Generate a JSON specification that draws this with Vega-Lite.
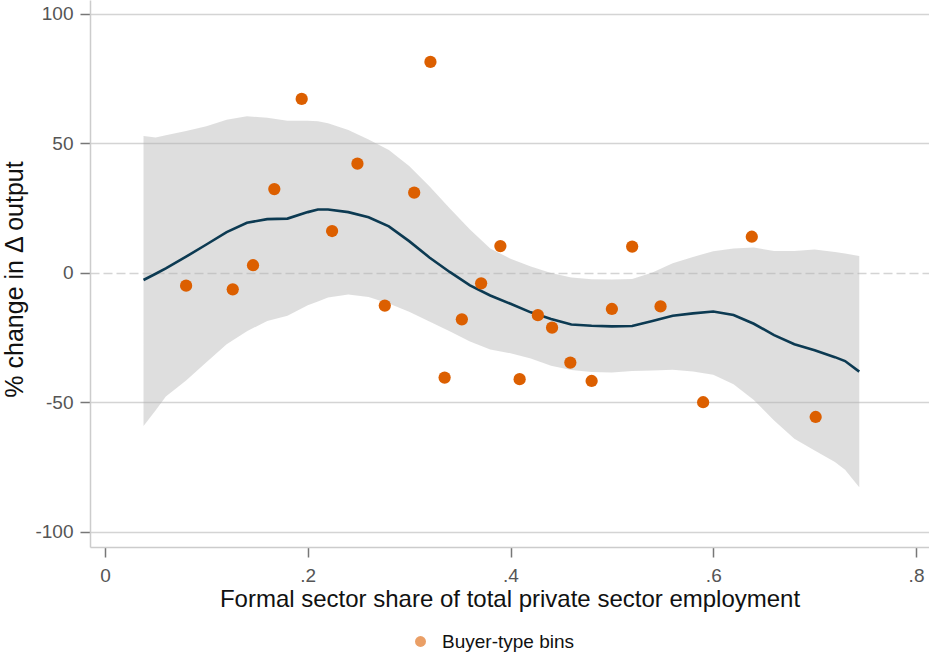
{
  "$schema": "https://vega.github.io/schema/vega-lite/v6.json",
  "width": 839,
  "height": 547,
  "autosize": {"type": "none"},
  "padding": {"left": 90, "top": 0, "right": 0, "bottom": 109},
  "background": "white",
  "config": {
    "font": "Liberation Sans",
    "view": {"stroke": null}
  },
  "datasets": {
    "band": [
      {"x": 0.038, "lo": -59.1, "hi": 52.9, "fit": -2.7},
      {"x": 0.05, "lo": -53.0, "hi": 52.3, "fit": -0.3},
      {"x": 0.06, "lo": -47.7, "hi": 53.2, "fit": 1.8},
      {"x": 0.08, "lo": -41.5, "hi": 54.8, "fit": 6.3},
      {"x": 0.10, "lo": -34.5, "hi": 56.7, "fit": 11.0},
      {"x": 0.12, "lo": -27.5, "hi": 59.2, "fit": 15.8},
      {"x": 0.14, "lo": -22.5, "hi": 60.5, "fit": 19.4},
      {"x": 0.16, "lo": -18.5, "hi": 59.9, "fit": 20.8},
      {"x": 0.18, "lo": -16.5, "hi": 58.8, "fit": 21.0},
      {"x": 0.20, "lo": -12.5, "hi": 58.8, "fit": 23.5},
      {"x": 0.21, "lo": -11.0, "hi": 58.6, "fit": 24.5},
      {"x": 0.22, "lo": -9.5, "hi": 57.8, "fit": 24.5},
      {"x": 0.24, "lo": -8.3, "hi": 55.2, "fit": 23.5},
      {"x": 0.26, "lo": -9.3, "hi": 51.5, "fit": 21.5},
      {"x": 0.28, "lo": -11.8, "hi": 47.5, "fit": 18.0},
      {"x": 0.30, "lo": -15.0, "hi": 41.3, "fit": 12.3},
      {"x": 0.32, "lo": -18.7, "hi": 33.5, "fit": 6.0},
      {"x": 0.34, "lo": -22.5, "hi": 25.0, "fit": 0.4},
      {"x": 0.36, "lo": -26.5, "hi": 16.8, "fit": -4.8},
      {"x": 0.38, "lo": -29.5, "hi": 9.5, "fit": -8.7},
      {"x": 0.40, "lo": -31.0, "hi": 5.5, "fit": -11.9},
      {"x": 0.42, "lo": -33.0, "hi": 2.5, "fit": -15.2},
      {"x": 0.44, "lo": -35.8, "hi": 0.0, "fit": -17.8},
      {"x": 0.46, "lo": -37.5, "hi": -1.7, "fit": -19.9},
      {"x": 0.48, "lo": -38.2, "hi": -2.4, "fit": -20.4},
      {"x": 0.50, "lo": -38.4, "hi": -2.5, "fit": -20.6},
      {"x": 0.52, "lo": -37.8, "hi": -2.3, "fit": -20.5},
      {"x": 0.54, "lo": -37.7, "hi": 0.2, "fit": -18.5},
      {"x": 0.56, "lo": -37.4, "hi": 3.8, "fit": -16.5},
      {"x": 0.58, "lo": -38.0, "hi": 6.2, "fit": -15.6},
      {"x": 0.60, "lo": -39.3, "hi": 8.4, "fit": -14.9},
      {"x": 0.62, "lo": -43.0, "hi": 9.5, "fit": -16.2},
      {"x": 0.64, "lo": -49.0, "hi": 9.8, "fit": -19.6},
      {"x": 0.66, "lo": -57.0, "hi": 8.5, "fit": -24.0},
      {"x": 0.68, "lo": -64.0, "hi": 8.5, "fit": -27.5},
      {"x": 0.70, "lo": -68.5, "hi": 9.1, "fit": -29.8},
      {"x": 0.72, "lo": -73.0, "hi": 8.1, "fit": -32.5},
      {"x": 0.73, "lo": -76.0, "hi": 7.5, "fit": -34.0},
      {"x": 0.744, "lo": -82.7, "hi": 6.6, "fit": -38.1}
    ],
    "bins": [
      {"x": 0.080, "y": -4.9, "series": "Buyer-type bins"},
      {"x": 0.126, "y": -6.3, "series": "Buyer-type bins"},
      {"x": 0.146, "y": 3.0, "series": "Buyer-type bins"},
      {"x": 0.167, "y": 32.4, "series": "Buyer-type bins"},
      {"x": 0.194, "y": 67.2, "series": "Buyer-type bins"},
      {"x": 0.224, "y": 16.2, "series": "Buyer-type bins"},
      {"x": 0.249, "y": 42.2, "series": "Buyer-type bins"},
      {"x": 0.276, "y": -12.6, "series": "Buyer-type bins"},
      {"x": 0.305, "y": 31.0, "series": "Buyer-type bins"},
      {"x": 0.321, "y": 81.5, "series": "Buyer-type bins"},
      {"x": 0.335, "y": -40.4, "series": "Buyer-type bins"},
      {"x": 0.352, "y": -17.9, "series": "Buyer-type bins"},
      {"x": 0.371, "y": -4.0, "series": "Buyer-type bins"},
      {"x": 0.390, "y": 10.4, "series": "Buyer-type bins"},
      {"x": 0.409, "y": -41.0, "series": "Buyer-type bins"},
      {"x": 0.427, "y": -16.3, "series": "Buyer-type bins"},
      {"x": 0.441, "y": -21.1, "series": "Buyer-type bins"},
      {"x": 0.459, "y": -34.6, "series": "Buyer-type bins"},
      {"x": 0.480, "y": -41.7, "series": "Buyer-type bins"},
      {"x": 0.500, "y": -13.9, "series": "Buyer-type bins"},
      {"x": 0.520, "y": 10.2, "series": "Buyer-type bins"},
      {"x": 0.548, "y": -12.9, "series": "Buyer-type bins"},
      {"x": 0.590, "y": -49.9, "series": "Buyer-type bins"},
      {"x": 0.638, "y": 14.0, "series": "Buyer-type bins"},
      {"x": 0.701, "y": -55.6, "series": "Buyer-type bins"}
    ]
  },
  "encoding": {
    "x": {
      "field": "x",
      "type": "quantitative",
      "scale": {"domain": [-0.0148, 0.8128], "nice": false, "zero": false},
      "axis": {
        "values": [0, 0.2, 0.4, 0.6, 0.8],
        "labelExpr": "datum.value == 0 ? '0' : replace(format(datum.value, '.1f'), '0.', '.')",
        "title": "Formal sector share of total private sector employment",
        "titleFontSize": 24,
        "titleFontWeight": "normal",
        "titleColor": "#111111",
        "titlePadding": 2,
        "labelFontSize": 19,
        "labelColor": "#555555",
        "labelPadding": 9,
        "labelFlush": false,
        "grid": false,
        "domainColor": "#cccccc",
        "domainWidth": 1.5,
        "tickColor": "#777777",
        "tickSize": 10,
        "tickWidth": 1.5
      }
    }
  },
  "layer": [
    {
      "data": {"name": "band"},
      "mark": {"type": "area", "color": "#b0b0b0", "opacity": 0.42},
      "encoding": {
        "y": {
          "field": "lo",
          "type": "quantitative",
          "scale": {"domain": [-105.8, 105.4], "nice": false, "zero": false},
          "axis": {
            "values": [-100, -50, 0, 50, 100],
            "labelExpr": "'' + datum.value",
            "title": "% change in \u0394 output",
            "titleFontSize": 25,
            "titleFontWeight": "normal",
            "titleColor": "#111111",
            "titleAngle": -90,
            "titleAlign": "center",
            "titleBaseline": "middle",
            "titleX": -76,
            "titleY": 279,
            "labelFontSize": 19,
            "labelColor": "#555555",
            "labelPadding": 7,
            "grid": true,
            "gridColor": "#d4d4d4",
            "gridWidth": 1.5,
            "gridDash": {"condition": {"test": "datum.value === 0", "value": [9, 4]}, "value": []},
            "domainColor": "#cccccc",
            "domainWidth": 1.5,
            "tickColor": "#777777",
            "tickSize": 10,
            "tickWidth": 1.5
          }
        },
        "y2": {"field": "hi"}
      }
    },
    {
      "data": {"name": "band"},
      "mark": {"type": "line", "color": "#0c3a52", "strokeWidth": 2.6},
      "encoding": {
        "y": {"field": "fit", "type": "quantitative"}
      }
    },
    {
      "data": {"name": "bins"},
      "mark": {"type": "circle", "size": 150, "opacity": 1},
      "encoding": {
        "y": {"field": "y", "type": "quantitative"},
        "color": {
          "field": "series",
          "type": "nominal",
          "scale": {"range": ["#dc5f00"]},
          "legend": {
            "title": null,
            "orient": "none",
            "legendX": 321,
            "legendY": 632,
            "padding": 0,
            "labelFontSize": 19,
            "labelColor": "#111111",
            "labelOffset": 12,
            "symbolSize": 120,
            "symbolOpacity": 0.6,
            "symbolStrokeWidth": 1.5
          }
        }
      }
    }
  ]
}
